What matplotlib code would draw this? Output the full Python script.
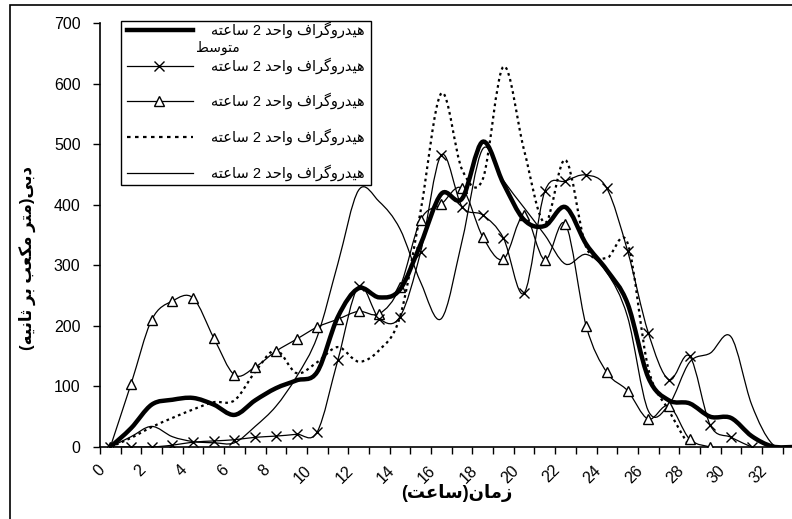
import numpy as np
import matplotlib
matplotlib.use('Agg')
import matplotlib.pyplot as plt
import matplotlib.transforms as mtransforms
from matplotlib.path import Path
from matplotlib.patches import PathPatch, Rectangle
from matplotlib.lines import Line2D

plt.rcParams['font.family'] = ['Liberation Sans', 'DejaVu Sans']

# hours since start (one category per hour)
hours = list(range(34))
hour_labels = [str(h) for h in range(0, 33, 2)]

# discharge (m3/s)
mean_uh = [0, 31, 70, 78, 81, 70, 53, 77, 97, 110, 124, 215, 262, 247, 260, 335, 418, 410,
           504, 435, 375, 365, 396, 335, 292, 237, 115, 77, 72, 50, 48, 18, 1, 0]
uh_cross = [0, 0, 0, 3, 8, 10, 12, 16, 18, 21, 25, 144, 265, 212, 215, 322, 482, 397, 383,
            345, 254, 422, 439, 449, 427, 324, 189, 111, 150, 36, 16, 0]
uh_tri = [0, 104, 210, 241, 246, 180, 119, 132, 158, 178, 198, 211, 224, 220, 264, 375, 401,
          427, 347, 310, 383, 309, 368, 200, 123, 93, 46, 68, 13, 0]
uh_dot = [0, 15, 33, 48, 62, 74, 77, 124, 160, 122, 140, 165, 141, 160, 215, 390, 584, 458,
          442, 628, 490, 370, 474, 330, 312, 337, 130, 60, 0]
uh_thin = [0, 17, 34, 17, 9, 7, 7, 34, 67, 116, 182, 303, 424, 405, 360, 272, 212, 340, 492,
           440, 395, 350, 302, 318, 288, 215, 60, 70, 140, 155, 182, 70, 5, 0]

legend_label = 'هيدروگراف واحد 2 ساعته'
mean_word = 'متوسط'
x_title = 'زمان(ساعت)'
y_title = 'دبی(متر مکعب بر ثانیه)'

# minimal arabic shaping (isolated, final, initial, medial) + visual reordering
FORMS = {
    'ا': ('\uFE8D', '\uFE8E', None, None),
    'ب': ('\uFE8F', '\uFE90', '\uFE91', '\uFE92'),
    'ت': ('\uFE95', '\uFE96', '\uFE97', '\uFE98'),
    'ث': ('\uFE99', '\uFE9A', '\uFE9B', '\uFE9C'),
    'ح': ('\uFEA1', '\uFEA2', '\uFEA3', '\uFEA4'),
    'د': ('\uFEA9', '\uFEAA', None, None),
    'ر': ('\uFEAD', '\uFEAE', None, None),
    'ز': ('\uFEAF', '\uFEB0', None, None),
    'س': ('\uFEB1', '\uFEB2', '\uFEB3', '\uFEB4'),
    'ط': ('\uFEC1', '\uFEC2', '\uFEC3', '\uFEC4'),
    'ع': ('\uFEC9', '\uFECA', '\uFECB', '\uFECC'),
    'ف': ('\uFED1', '\uFED2', '\uFED3', '\uFED4'),
    'م': ('\uFEE1', '\uFEE2', '\uFEE3', '\uFEE4'),
    'ن': ('\uFEE5', '\uFEE6', '\uFEE7', '\uFEE8'),
    'ه': ('\uFEE9', '\uFEEA', '\uFEEB', '\uFEEC'),
    'و': ('\uFEED', '\uFEEE', None, None),
    'ي': ('\uFEF1', '\uFEF2', '\uFEF3', '\uFEF4'),
    'ی': ('\uFBFC', '\uFBFD', '\uFBFE', '\uFBFF'),
    'ک': ('\uFB8E', '\uFB8F', '\uFB90', '\uFB91'),
    'گ': ('\uFB92', '\uFB93', '\uFB94', '\uFB95'),
}


def rtl(s):
    out = []
    for i, ch in enumerate(s):
        if ch not in FORMS:
            out.append(ch)
            continue
        prev = s[i - 1] if i > 0 else ''
        nxt = s[i + 1] if i + 1 < len(s) else ''
        jp = prev in FORMS and FORMS[prev][2] is not None
        jn = nxt in FORMS and FORMS[ch][2] is not None
        iso, fin, ini, med = FORMS[ch]
        out.append(med if jp and jn else fin if jp else ini if jn else iso)
    vis = ''.join(reversed(out))
    return vis.translate(str.maketrans('()', ')('))


def smooth_path(xs, ys):
    # excel style smoothed line: cubic bezier through each point
    p = np.column_stack([xs, ys]).astype(float)
    verts = [p[0]]
    codes = [Path.MOVETO]
    n = len(p)
    for i in range(n - 1):
        p0 = p[i - 1] if i > 0 else p[i]
        p3 = p[i + 2] if i + 2 < n else p[i + 1]
        c1 = p[i] + (p[i + 1] - p0) / 6
        c2 = p[i + 1] - (p3 - p[i]) / 6
        verts += [c1, c2, p[i + 1]]
        codes += [Path.CURVE4] * 3
    return Path(verts, codes)


fig = plt.figure(figsize=(7.92, 5.19), dpi=100)
W, H = 792, 519
ax = fig.add_axes([100 / W, 1 - 447 / H, 692 / W, 424 / H])


def series(vals, lw, ls='-', marker=None, z=2):
    x = hours[:len(vals)]
    ax.add_patch(PathPatch(smooth_path(x, vals), fill=False, edgecolor='black', lw=lw,
                           linestyle=ls, zorder=z, capstyle='butt'))
    if marker:
        ax.plot(x, vals, linestyle='none', marker=marker, ms=7, mfc='white' if marker == '^' else 'none',
                mec='black', mew=1.0, zorder=z + 1)


series(uh_thin, 0.9)
series(uh_dot, 1.6, ls=(0, (1.2, 1.6)))
series(uh_tri, 0.9, marker='^')
series(uh_cross, 0.9, marker='x')
series(mean_uh, 3.2, z=5)

ax.set_xlim(-0.5, 32.95)
ax.set_ylim(0, 700)
ax.set_yticks(range(0, 701, 100))
ax.tick_params(axis='y', direction='out', length=5, width=1, pad=9, labelsize=11.5)
ax.set_xticks(np.arange(-0.5, 33, 1.0))
ax.set_xticklabels([])
ax.set_xticks(range(0, 33, 2), minor=True)
ax.set_xticklabels(hour_labels, minor=True, rotation=45, ha='right', va='center',
                   rotation_mode='anchor', fontsize=11.5)
ax.tick_params(axis='x', which='major', direction='out', length=5, width=1)
ax.tick_params(axis='x', which='minor', length=0, pad=10)
shift = mtransforms.ScaledTranslation(-0.08, -0.07, fig.dpi_scale_trans)
for lab in ax.get_xticklabels(minor=True):
    lab.set_transform(lab.get_transform() + shift)
for s in ['top', 'right']:
    ax.spines[s].set_visible(False)
for s in ['left', 'bottom']:
    ax.spines[s].set_linewidth(1.2)

fig.text(457 / W, 1 - 493 / H, rtl(x_title), ha='center', va='center', fontsize=13,
         fontweight='bold')
fig.text(27 / W, 1 - 258 / H, rtl(y_title), ha='center', va='center', rotation=90,
         fontsize=12, fontweight='bold')


# legend drawn by hand in pixel positions
def fx(x):
    return x / W


def fy(y):
    return 1 - y / H


fig.add_artist(Rectangle((fx(121), fy(185)), fx(250), 164 / H, transform=fig.transFigure,
                         facecolor='white', edgecolor='black', lw=1.0, zorder=10))
rows = [(30, 3.2, '-', None), (66, 0.9, '-', 'x'), (101, 0.9, '-', '^'),
        (137, 1.6, (0, (1.6, 2.0)), None), (173, 0.9, '-', None)]
for y, lw, ls, mk in rows:
    fig.add_artist(Line2D([fx(127), fx(193)], [fy(y), fy(y)], transform=fig.transFigure,
                          color='black', lw=lw, linestyle=ls, zorder=11))
    if mk:
        fig.add_artist(Line2D([fx(159)], [fy(y)], transform=fig.transFigure, marker=mk, ms=7,
                              mfc='white', mec='black', mew=1.0, zorder=12))
    fig.text(fx(365), fy(y), rtl(legend_label), ha='right', va='center', fontsize=10.5, zorder=12)
fig.text(fx(196), fy(48), rtl(mean_word), ha='left', va='center', fontsize=10, zorder=12)

# outer chart border
fig.add_artist(Rectangle((fx(10), fy(530)), fx(800), 525 / H, transform=fig.transFigure,
                         fill=False, edgecolor='black', lw=1.2, zorder=0))

fig.savefig('out.png', dpi=100)
